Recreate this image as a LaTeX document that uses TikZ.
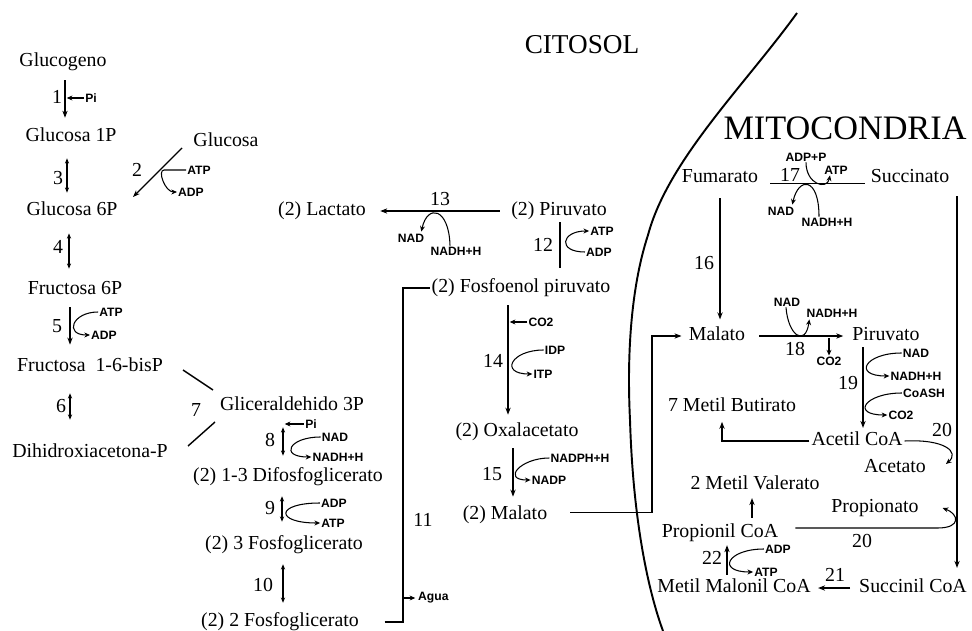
\documentclass[tikz,border=0pt]{standalone}
\usepackage{fontspec}
\setmainfont{Liberation Serif}
\newfontfamily\labfont{Liberation Sans}
\usetikzlibrary{arrows.meta,calc}
\begin{document}
\begin{tikzpicture}[x=0.02cm,y=-0.02cm,
 met/.style={font=\fontsize{11.3}{13}\selectfont, inner sep=1pt, text height=8pt, text depth=2.5pt},
 num/.style={font=\fontsize{11.3}{13}\selectfont, inner sep=1pt},
 lab/.style={font=\labfont\bfseries\fontsize{6.9}{8}\selectfont, inner sep=0.5pt},
 ttl/.style={inner sep=1pt},
 rx/.style={line width=0.8pt},
 fwd/.style={rx,-{Stealth[length=4pt,width=3pt]}},
 rev/.style={rx,{Stealth[length=3pt,width=2.4pt]}-{Stealth[length=3pt,width=2.4pt]}},
 cof/.style={line width=0.6pt,-{Stealth[length=3.2pt,width=2.8pt]}},
 cofl/.style={line width=0.6pt},
 memb/.style={line width=1.1pt}]
\useasboundingbox (0,0) rectangle (972,631);

% titles and membrane
\node[ttl, font=\fontsize{15.5}{19}\selectfont] (cit) at (582,45) {CITOSOL};
\node[ttl, font=\fontsize{19.5}{22}\selectfont] (mit) at (845,128) {MITOCONDRIA};
\draw[memb] (797,13) .. controls (745,85) and (668,160) .. (648,235) .. controls (630,290) and (627,360) .. (630,420) .. controls (633,520) and (648,590) .. (663,631);

% x positions of reaction lines
\coordinate (X1) at (65,0);
\coordinate (X3) at (67,0);
\coordinate (X4) at (69,0);
\coordinate (X5) at (70,0);
\coordinate (X6) at (70,0);
\coordinate (X8) at (283,0);
\coordinate (X9) at (282,0);
\coordinate (X10) at (283,0);
\coordinate (X11) at (403,0);
\coordinate (X12) at (560,0);
\coordinate (X14) at (508,0);
\coordinate (X15) at (513,0);
\coordinate (Xm) at (652,0);
\coordinate (X16) at (720,0);
\coordinate (X19) at (863,0);
\coordinate (Xb) at (722,0);
\coordinate (Xv) at (752,0);
\coordinate (X22) at (727,0);
\coordinate (Xs) at (957,0);

% metabolites - glycolysis
\node[met] (gg) at (63,62) {Glucogeno};
\node[met] (g1p) at (71,137) {Glucosa 1P};
\node[met] (g6p) at (72,211) {Glucosa 6P};
\node[met] (glc) at (226,142) {Glucosa};
\node[met] (f6p) at (75,290) {Fructosa 6P};
\node[met] (fbp) at (90,367) {Fructosa\ \ 1-6-bisP};
\node[met] (dhap) at (90,453) {Dihidroxiacetona-P};
\node[met] (gap) at (292,406) {Gliceraldehido 3P};
\node[met] (bpg) at (288,477) {(2) 1-3 Difosfoglicerato};
\node[met] (pg3) at (284,545) {(2) 3 Fosfoglicerato};
\node[met] (pg2) at (280,622) {(2) 2 Fosfoglicerato};

% middle
\node[met] (lac) at (322,211) {(2) Lactato};
\node[met] (pyr) at (559,211) {(2) Piruvato};
\node[met] (pep) at (521,288) {(2) Fosfoenol piruvato};
\node[met] (oaa) at (517,432) {(2) Oxalacetato};
\node[met] (mal2) at (505,515) {(2) Malato};

% mitochondria
\node[met] (fum) at (720,178) {Fumarato};
\node[met] (suc) at (910,178) {Succinato};
\node[met] (malm) at (717,336) {Malato};
\node[met] (pyrm) at (886,336) {Piruvato};
\node[met] (but) at (732,407) {7 Metil Butirato};
\node[met] (acoa) at (857,441) {Acetil CoA};
\node[met] (acet) at (895,468) {Acetato};
\node[met] (val) at (755,485) {2 Metil Valerato};
\node[met] (prop) at (875,508) {Propionato};
\node[met] (pcoa) at (720,533) {Propionil CoA};
\node[met] (mmc) at (734,588) {Metil Malonil CoA};
\node[met] (scoa) at (913,588) {Succinil CoA};

% step numbers
\node[num] (n1) at (57,97) {1};
\node[num] (n2) at (137,170) {2};
\node[num] (n3) at (58,178) {3};
\node[num] (n4) at (58,247) {4};
\node[num] (n5) at (57,326) {5};
\node[num] (n6) at (61,406) {6};
\node[num] (n7) at (196,410) {7};
\node[num] (n8) at (270,440) {8};
\node[num] (n9) at (270,508) {9};
\node[num] (n10) at (263,585) {10};
\node[num] (n11) at (423,520) {11};
\node[num] (n12) at (543,245) {12};
\node[num] (n13) at (440,199) {13};
\node[num] (n14) at (493,361) {14};
\node[num] (n15) at (492,474) {15};
\node[num] (n16) at (704,263) {16};
\node[num] (n17) at (790,175) {17};
\node[num] (n18) at (795,349) {18};
\node[num] (n19) at (848,383) {19};
\node[num] (n20a) at (942,430) {20};
\node[num] (n20b) at (862,541) {20};
\node[num] (n21) at (835,575) {21};
\node[num] (n22) at (712,558) {22};

% cofactor labels
\node[lab] (pi1) at (91,98) {Pi};
\node[lab] (atp2) at (199,170) {ATP};
\node[lab] (adp2) at (191,192) {ADP};
\node[lab] (atp5) at (111,312) {ATP};
\node[lab] (adp5) at (104,335) {ADP};
\node[lab] (pi8) at (311,424) {Pi};
\node[lab] (nad8) at (335,437) {NAD};
\node[lab] (nadh8) at (338,457) {NADH+H};
\node[lab] (adp9) at (334,503) {ADP};
\node[lab] (atp9) at (333,523) {ATP};
\node[lab, anchor=west] (agua) at (417,598) {Agua};
\node[lab] (nad13) at (411,238) {NAD};
\node[lab] (nadh13) at (456,251) {NADH+H};
\node[lab] (atp12) at (602,231) {ATP};
\node[lab] (adp12) at (599,252) {ADP};
\node[lab] (co2a) at (541,322) {CO2};
\node[lab] (idp) at (555,350) {IDP};
\node[lab] (itp) at (543,374) {ITP};
\node[lab] (nadph) at (580,458) {NADPH+H};
\node[lab] (nadp) at (549,480) {NADP};
\node[lab] (adpp) at (806,157) {ADP+P};
\node[lab] (atp17) at (836,170) {ATP};
\node[lab] (nad17) at (781,211) {NAD};
\node[lab] (nadh17) at (827,222) {NADH+H};
\node[lab] (nad18) at (787,302) {NAD};
\node[lab] (nadh18) at (832,313) {NADH+H};
\node[lab] (co2b) at (829,361) {CO2};
\node[lab] (nad19) at (916,353) {NAD};
\node[lab] (nadh19) at (916,376) {NADH+H};
\node[lab] (coash) at (924,393) {CoASH};
\node[lab] (co2c) at (901,415) {CO2};
\node[lab] (adp22) at (778,549) {ADP};
\node[lab] (atp22) at (766,572) {ATP};

% ---- glycolysis reactions
\draw[fwd, shorten <=4pt, shorten >=4.5pt] (gg.south -| X1) -- (g1p.north -| X1);
\draw[cof, shorten >=1pt] (pi1.west) -- (pi1.west -| X1);
\draw[rev, shorten <=5.7pt, shorten >=4pt] (g1p.south -| X3) -- (g6p.north -| X3);
\coordinate (r2a) at (182,148);
\coordinate (r2b) at (133,197);
\draw[fwd] (r2a) -- (r2b);
\draw[cof] (atp2.west) -- ++(-22,0) .. controls +(-7,0) and +(-12,0) .. (adp2.west);
\draw[rev, shorten <=6.3pt, shorten >=5.7pt] (g6p.south -| X4) -- (f6p.north -| X4);
\draw[fwd, shorten <=3.4pt, shorten >=6.3pt] (f6p.south -| X5) -- (fbp.north -| X5);
\draw[cof] (atp5.west) .. controls +(-26,0) and +(-26,0) .. (adp5.west);
\draw[rev, shorten <=8.5pt, shorten >=12.5pt] (fbp.south -| X6) -- (dhap.north -| X6);
\coordinate (r7a) at (183,370);
\coordinate (r7b) at (213,390);
\coordinate (r7c) at (188,446);
\coordinate (r7d) at (215,422);
\draw[rx] (r7a) -- (r7b);
\draw[rx] (r7c) -- (r7d);
\draw[rev, shorten <=5.7pt, shorten >=5.7pt] (gap.south -| X8) -- (bpg.north -| X8);
\draw[cof, shorten >=1pt] (pi8.west) -- (pi8.west -| X8);
\draw[cof] (nad8.west) .. controls +(-32,0) and +(-32,0) .. (nadh8.west);
\draw[rev, shorten <=4.5pt, shorten >=6.8pt] (bpg.south -| X9) -- (pg3.north -| X9);
\draw[cof] (adp9.west) .. controls +(-45,0) and +(-45,0) .. (atp9.west);
\draw[rev, shorten <=4.5pt, shorten >=4.5pt] (pg3.south -| X10) -- (pg2.north -| X10);
\draw[rx, shorten <=13.5pt] (pg2.east) -- (pg2.east -| X11) -- (X11 |- pep.west) -- (pep.west);
\draw[cof, shorten >=1pt] (X11 |- agua.west) -- (agua.west);

% ---- middle reactions
\draw[fwd, shorten <=5.5pt, shorten >=7pt] (pyr.west) -- (lac.east);
\draw[cof] ($(nadh13.north)+(-6,0)$) .. controls +(-1,-38) and +(6,-28) .. ($(nad13.north east)+(-4,-1)$);
\draw[rx, shorten >=5pt] (pyr.south -| X12) -- (pep.north -| X12);
\draw[cof] (adp12.west) .. controls +(-28,0) and +(-28,0) .. (atp12.west);
\draw[fwd, shorten <=3.4pt, shorten >=3.4pt] (pep.south -| X14) -- (oaa.north -| X14);
\draw[cof, shorten >=1pt] (co2a.west) -- (co2a.west -| X14);
\draw[cof] (idp.west) .. controls +(-33,0) and +(-33,0) .. (itp.west);
\draw[fwd, shorten <=2.8pt, shorten >=4pt] (oaa.south -| X15) -- (mal2.north -| X15);
\draw[cof] (nadph.west) .. controls +(-29,0) and +(-29,0) .. (nadp.west);
\draw[fwd, shorten <=12pt, shorten >=3pt] ([yshift=1.5pt]mal2.east) -- ([yshift=1.5pt]mal2.east -| Xm) |- (malm.west);

% ---- mitochondrial reactions
\draw[rx, shorten <=5.7pt, shorten >=2pt] ([yshift=-3pt]fum.east) -- ([yshift=-3pt]suc.west);
\draw[cof] (adpp.south) .. controls +(0,22) and +(-3,15) .. ($(atp17.south)+(-6,0)$);
\draw[cof] ($(nadh17.north)+(-8,0)$) .. controls +(0,-40) and +(6,-28) .. ($(nad17.north east)+(-3,-1)$);
\draw[fwd, shorten <=5pt, shorten >=3pt] (fum.south -| X16) -- (malm.north -| X16);
\draw[fwd, shorten <=6.8pt, shorten >=4pt] (malm.east) -- (pyrm.west);
\draw[cof] ($(nad18.south)+(-1,0)$) .. controls +(2,28) and +(-4,28) .. ($(nadh18.south west)+(4,1)$);
\draw[cof, shorten <=1pt] (malm.east -| co2b.north) -- (co2b.north);
\draw[fwd, shorten >=1pt] (pyrm.south -| X19) -- (acoa.north -| X19);
\draw[cof] (nad19.west) .. controls +(-37,0) and +(-37,0) .. (nadh19.west);
\draw[cof] (coash.west) .. controls +(-37,0) and +(-37,0) .. (co2c.west);
\draw[fwd, shorten >=2pt] (acoa.west) -| (Xb |- but.south);
\draw[cof] (acoa.east) .. controls +(40,-2) and +(14,-12) .. ($(acet.east)+(18,-4)$);
\draw[cof] ($(pcoa.east)+(15,-5)$) -- ($(prop.east)+(17,20)$) .. controls +(24,0) and +(16,6) .. ($(prop.east)+(22,0)$);
\draw[fwd, shorten <=2.3pt, shorten >=1pt] (pcoa.north -| Xv) -- (val.south -| Xv);
\draw[fwd, shorten <=1pt, shorten >=0.5pt] (mmc.north -| X22) -- (pcoa.south -| X22);
\draw[cof] (adp22.west) .. controls +(-37,0) and +(-37,0) .. (atp22.west);
\draw[fwd, shorten <=4pt, shorten >=3pt] (scoa.west) -- (mmc.east);
\draw[fwd, shorten <=4pt, shorten >=5pt] (suc.south -| Xs) -- (scoa.north -| Xs);
\end{tikzpicture}
\end{document}
